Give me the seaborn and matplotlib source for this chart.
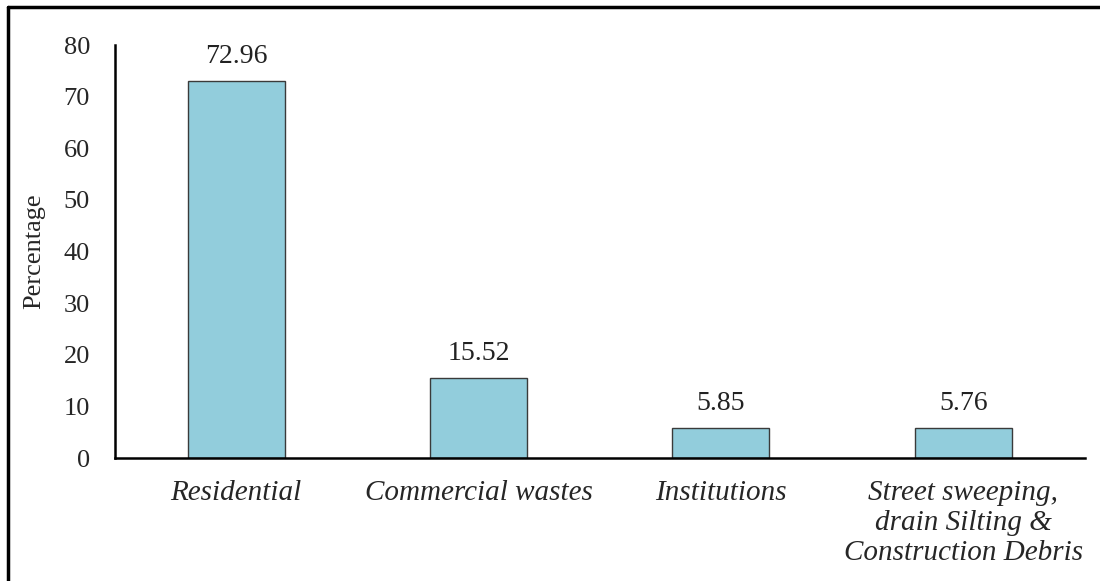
# bar chart of waste source percentages
import matplotlib
matplotlib.use("Agg")
import matplotlib.pyplot as plt
from matplotlib.lines import Line2D
import pandas as pd
import seaborn as sns

categories = ["Residential", "Commercial wastes", "Institutions",
              "Street sweeping,\ndrain Silting &\nConstruction Debris"]
values = [72.96, 15.52, 5.85, 5.76]
value_labels = ["72.96", "15.52", "5.85", "5.76"]
yticks = [0, 10, 20, 30, 40, 50, 60, 70, 80]

df = pd.DataFrame({"source": categories, "pct": values})

sns.set_style("white")
plt.rcParams["font.family"] = ["Liberation Serif", "DejaVu Serif"]

fig = plt.figure(figsize=(11, 5.81), dpi=100)
ax = fig.add_axes([0.1045, 0.2117, 0.8815, 0.7108])

sns.barplot(data=df, x="source", y="pct", color="#92CDDC", saturation=1,
            width=0.4, edgecolor="#3a3a3a", linewidth=1, ax=ax)

for i, (v, lab) in enumerate(zip(values, value_labels)):
    ax.text(i, v + 2.3, lab, ha="center", va="bottom", fontsize=20, color="#222222")

ax.set_ylim(0, 80)
ax.set_xlim(-0.5, 3.5)
ax.set_yticks(yticks)
ax.set_yticklabels([str(t) for t in yticks], fontsize=19)
ax.set_xticks(range(len(categories)))
ax.set_xticklabels(categories, fontsize=21, style="italic", va="top", linespacing=1.2)
ax.tick_params(axis="x", length=0, pad=16)
ax.tick_params(axis="y", length=0, pad=18)
ax.set_xlabel("")
ax.set_ylabel("Percentage", fontsize=19, labelpad=13)

for s in ["top", "right"]:
    ax.spines[s].set_visible(False)
for s in ["left", "bottom"]:
    ax.spines[s].set_color("black")
    ax.spines[s].set_linewidth(1.8)

# outer frame (top and left edges visible in the source)
fig.add_artist(Line2D([0.0073, 1.0], [0.988, 0.988], color="black", lw=2.5, transform=fig.transFigure))
fig.add_artist(Line2D([0.0073, 0.0073], [0.0, 0.988], color="black", lw=2.5, transform=fig.transFigure))

fig.savefig("out.png", dpi=100)
